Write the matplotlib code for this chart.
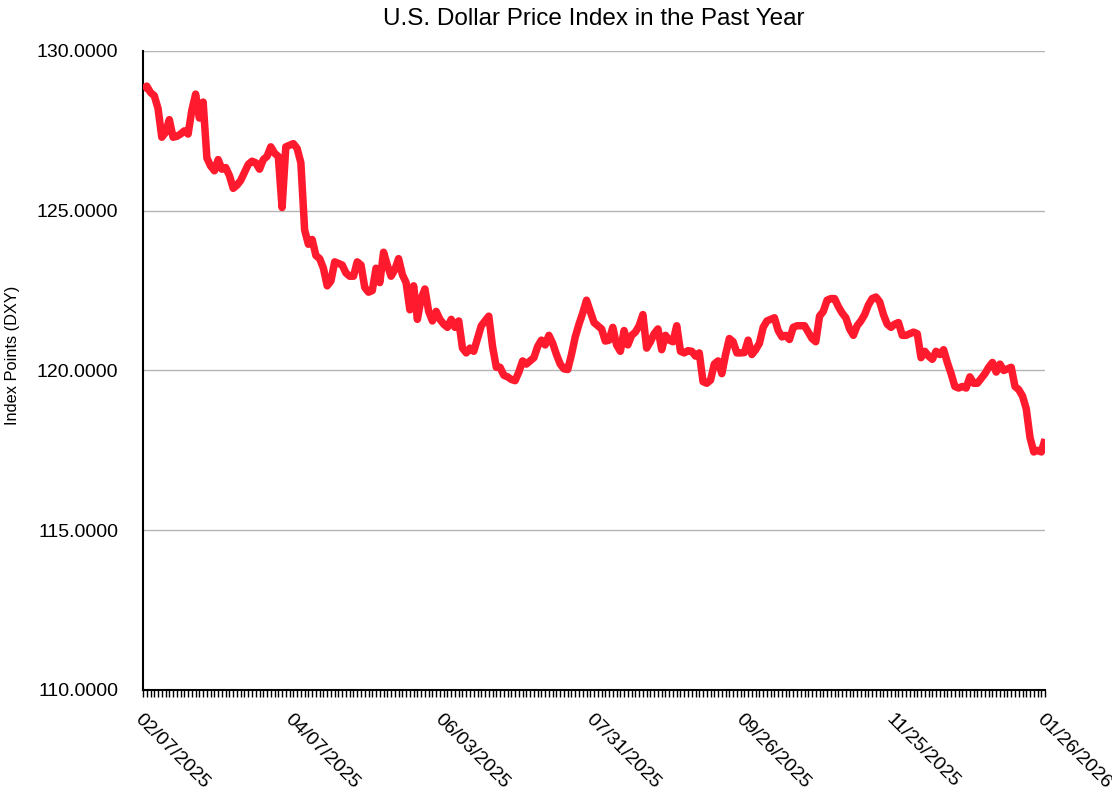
import matplotlib
matplotlib.use("Agg")
import matplotlib.pyplot as plt
from matplotlib.ticker import FormatStrFormatter, MultipleLocator

plt.rcParams['font.family'] = ['Liberation Sans', 'DejaVu Sans']

title = "U.S. Dollar Price Index in the Past Year"
ylabel = "Index Points (DXY)"

tick_labels = ["02/07/2025", "04/07/2025", "06/03/2025", "07/31/2025",
               "09/26/2025", "11/25/2025", "01/26/2026"]
tick_every = 40

dxy = [
    128.8, 128.9, 128.7, 128.6, 128.2, 127.3, 127.45, 127.85, 127.3, 127.33,
    127.4, 127.5, 127.4, 128.15, 128.65, 127.9, 128.4, 126.65, 126.4, 126.25,
    126.6, 126.3, 126.35, 126.1, 125.7, 125.8, 125.95, 126.2, 126.45, 126.55,
    126.5, 126.3, 126.6, 126.7, 127.0, 126.8, 126.7, 125.1, 127.0, 127.05,
    127.1, 126.95, 126.5, 124.4, 123.95, 124.1, 123.6, 123.5, 123.2, 122.65,
    122.8, 123.4, 123.35, 123.3, 123.05, 122.95, 122.95, 123.4, 123.3, 122.6,
    122.45, 122.5, 123.2, 122.75, 123.7, 123.3, 122.95, 123.15, 123.5, 123.0,
    122.75, 121.9, 122.65, 121.6, 122.25, 122.55, 121.85, 121.55, 121.85, 121.6,
    121.45, 121.35, 121.6, 121.35, 121.55, 120.7, 120.55, 120.7, 120.6, 121.0,
    121.4, 121.55, 121.7, 120.75, 120.1, 120.1, 119.85, 119.8, 119.72, 119.68,
    119.95, 120.3, 120.2, 120.3, 120.4, 120.75, 120.95, 120.8, 121.1, 120.85,
    120.5, 120.2, 120.05, 120.03, 120.5, 121.05, 121.45, 121.8, 122.2, 121.85,
    121.5, 121.4, 121.3, 120.92, 120.95, 121.35, 120.8, 120.6, 121.25, 120.8,
    121.1, 121.2, 121.4, 121.75, 120.7, 120.9, 121.15, 121.3, 120.65, 121.1,
    120.95, 120.9, 121.4, 120.6, 120.55, 120.62, 120.6, 120.45, 120.55, 119.65,
    119.6, 119.7, 120.2, 120.3, 119.9, 120.5, 121.0, 120.9, 120.55, 120.55,
    120.56, 120.95, 120.5, 120.65, 120.85, 121.35, 121.55, 121.6, 121.65, 121.25,
    121.05, 121.1, 120.97, 121.35, 121.4, 121.4, 121.4, 121.2, 121.0, 120.9,
    121.7, 121.85, 122.2, 122.25, 122.25, 122.0, 121.8, 121.65, 121.3, 121.1,
    121.4, 121.55, 121.75, 122.05, 122.25, 122.3, 122.15, 121.75, 121.45, 121.35,
    121.45, 121.5, 121.1, 121.1, 121.15, 121.2, 121.15, 120.4, 120.6, 120.45,
    120.35, 120.6, 120.5, 120.65, 120.25, 119.9, 119.5, 119.45, 119.5, 119.45,
    119.8, 119.6, 119.6, 119.75, 119.9, 120.1, 120.25, 119.95, 120.2, 120.0,
    120.05, 120.1, 119.5, 119.4, 119.2, 118.8, 117.9, 117.45, 117.5, 117.45,
    117.85,
]

fig = plt.figure(figsize=(11.12, 7.94), dpi=100)
ax = fig.add_axes([0.1286, 0.131, 0.9398 - 0.1286, 0.9358 - 0.131])

x = list(range(len(dxy)))
ax.plot(x, dxy, color='#FF1A2E', lw=5.4, solid_joinstyle='round',
        solid_capstyle='butt', zorder=3)

ax.set_xlim(0, len(dxy) - 1)
ax.set_ylim(110, 130)
ax.yaxis.set_major_locator(MultipleLocator(5))
ax.yaxis.set_major_formatter(FormatStrFormatter('%.4f'))
ax.grid(axis='y', color='#b4b4b4', lw=1.0, zorder=0)

ax.set_xticks([i * tick_every for i in range(len(tick_labels))])
ax.set_xticklabels(tick_labels, rotation=-45, ha='left', va='top',
                   rotation_mode='anchor', fontsize=14)
ax.set_xticks(x, minor=True)
ax.tick_params(axis='x', which='both', length=5, width=1, direction='out',
               color='black', pad=10)
ax.tick_params(axis='y', length=0, labelsize=14, pad=18)

for s in ['top', 'right']:
    ax.spines[s].set_visible(False)
ax.spines['left'].set_linewidth(1.5)
ax.spines['bottom'].set_linewidth(1.5)

ax.set_title(title, fontsize=17.5, pad=19)
ax.set_ylabel(ylabel, fontsize=11.8)
ax.yaxis.set_label_coords(-0.136, 0.524)

fig.savefig('out.png', dpi=100)
